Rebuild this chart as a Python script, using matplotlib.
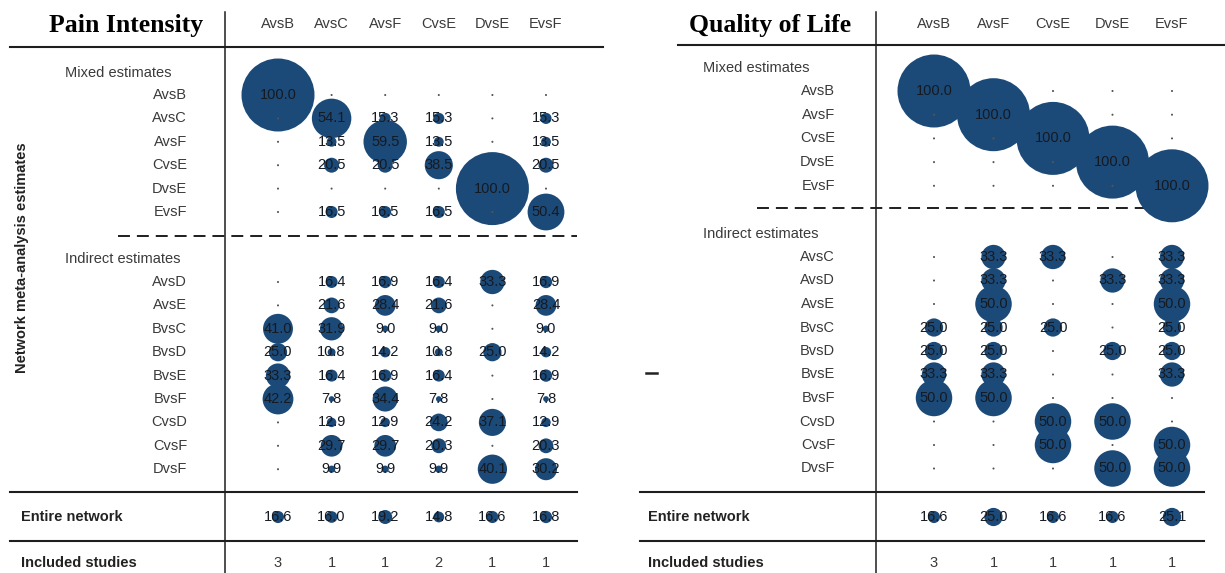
import matplotlib
matplotlib.use('Agg')
import matplotlib.pyplot as plt

plt.rcParams['font.family'] = ['Liberation Sans', 'DejaVu Sans']
plt.rcParams['lines.scale_dashes'] = False

# ---------------- data: Pain Intensity ----------------
pain_cols = ['AvsB', 'AvsC', 'AvsF', 'CvsE', 'DvsE', 'EvsF']
pain_mixed_rows = ['AvsB', 'AvsC', 'AvsF', 'CvsE', 'DvsE', 'EvsF']
pain_mixed = [
    [100.0, 0, 0, 0, 0, 0],
    [0, 54.1, 15.3, 15.3, 0, 15.3],
    [0, 13.5, 59.5, 13.5, 0, 13.5],
    [0, 20.5, 20.5, 38.5, 0, 20.5],
    [0, 0, 0, 0, 100.0, 0],
    [0, 16.5, 16.5, 16.5, 0, 50.4],
]
pain_indirect_rows = ['AvsD', 'AvsE', 'BvsC', 'BvsD', 'BvsE', 'BvsF', 'CvsD', 'CvsF', 'DvsF']
pain_indirect = [
    [0, 16.4, 16.9, 16.4, 33.3, 16.9],
    [0, 21.6, 28.4, 21.6, 0, 28.4],
    [41.0, 31.9, 9.0, 9.0, 0, 9.0],
    [25.0, 10.8, 14.2, 10.8, 25.0, 14.2],
    [33.3, 16.4, 16.9, 16.4, 0, 16.9],
    [42.2, 7.8, 34.4, 7.8, 0, 7.8],
    [0, 12.9, 12.9, 24.2, 37.1, 12.9],
    [0, 29.7, 29.7, 20.3, 0, 20.3],
    [0, 9.9, 9.9, 9.9, 40.1, 30.2],
]
pain_entire = [16.6, 16.0, 19.2, 14.8, 16.6, 16.8]
pain_studies = [3, 1, 1, 2, 1, 1]

# ---------------- data: Quality of Life ----------------
qol_cols = ['AvsB', 'AvsF', 'CvsE', 'DvsE', 'EvsF']
qol_mixed_rows = ['AvsB', 'AvsF', 'CvsE', 'DvsE', 'EvsF']
qol_mixed = [
    [100.0, 0, 0, 0, 0],
    [0, 100.0, 0, 0, 0],
    [0, 0, 100.0, 0, 0],
    [0, 0, 0, 100.0, 0],
    [0, 0, 0, 0, 100.0],
]
qol_indirect_rows = ['AvsC', 'AvsD', 'AvsE', 'BvsC', 'BvsD', 'BvsE', 'BvsF', 'CvsD', 'CvsF', 'DvsF']
qol_indirect = [
    [0, 33.3, 33.3, 0, 33.3],
    [0, 33.3, 0, 33.3, 33.3],
    [0, 50.0, 0, 0, 50.0],
    [25.0, 25.0, 25.0, 0, 25.0],
    [25.0, 25.0, 0, 25.0, 25.0],
    [33.3, 33.3, 0, 0, 33.3],
    [50.0, 50.0, 0, 0, 0],
    [0, 0, 50.0, 50.0, 0],
    [0, 0, 50.0, 0, 50.0],
    [0, 0, 0, 50.0, 50.0],
]
qol_entire = [16.6, 25.0, 16.6, 16.6, 25.1]
qol_studies = [3, 1, 1, 1, 1]

# ---------------- style ----------------
W, H = 1225, 573
BUBBLE = '#1c4a78'
NUMCOL = '#151a22'
LABCOL = '#3a3a3a'
LINECOL = '#1e1e1e'
FS = 10.5
PX2PT = 0.72
DIAM_PER_UNIT = 0.73  # pixels of diameter per percentage point

fig = plt.figure(figsize=(W / 100, H / 100), dpi=100)
ax = fig.add_axes([0, 0, 1, 1])
ax.set_xlim(0, W)
ax.set_ylim(H, 0)
ax.axis('off')


def bubbles(xs, y, vals):
    for x, v in zip(xs, vals):
        if v > 0:
            d = DIAM_PER_UNIT * v * PX2PT
            ax.scatter([x], [y], s=d ** 2, color=BUBBLE, edgecolors='none', zorder=3)
            ax.text(x, y, f'{v:.1f}', ha='center', va='center', fontsize=FS,
                    color=NUMCOL, zorder=4)
        else:
            ax.scatter([x], [y], s=2.2, color='#555555', edgecolors='none', zorder=3)


def panel(cfg):
    cols = cfg['cols']
    xs = [cfg['x0'] + j * cfg['dx'] for j in range(len(cols))]
    # title and header
    ax.text(cfg['title_x'], 32, cfg['title'], ha='left', va='baseline',
            fontsize=18.5, fontweight='bold', family='Liberation Serif', color='black')
    for x, c in zip(xs, cols):
        ax.text(x, 24, c, ha='center', va='center', fontsize=FS, color=LABCOL)
    # structure lines
    ax.plot([cfg['vline_x']] * 2, [12, H], color=LINECOL, lw=1.1)
    ax.plot(cfg['hline_head'], [cfg['head_y']] * 2, color=LINECOL, lw=1.5)
    ax.plot(cfg['hline_low'], [492] * 2, color=LINECOL, lw=1.5)
    ax.plot(cfg['hline_low'], [541] * 2, color=LINECOL, lw=1.5)
    ax.plot(cfg['dash'], [cfg['dash_y']] * 2, color=LINECOL, lw=1.4,
            dashes=(8.6, 5.0), zorder=2)
    # section labels
    ax.text(cfg['sec_x'], cfg['mixed_lab_y'], 'Mixed estimates', ha='left', va='center',
            fontsize=FS, color=LABCOL)
    ax.text(cfg['sec_x'], cfg['ind_lab_y'], 'Indirect estimates', ha='left', va='center',
            fontsize=FS, color=LABCOL)
    # mixed rows
    for i, (r, vals) in enumerate(zip(cfg['mixed_rows'], cfg['mixed'])):
        y = cfg['m0'] + i * cfg['mdy']
        ax.text(cfg['row_x'], y, r, ha='right', va='center', fontsize=FS, color=LABCOL)
        bubbles(xs, y, vals)
    # indirect rows
    for i, (r, vals) in enumerate(zip(cfg['ind_rows'], cfg['ind'])):
        y = cfg['i0'] + i * cfg['idy']
        ax.text(cfg['row_x'], y, r, ha='right', va='center', fontsize=FS, color=LABCOL)
        bubbles(xs, y, vals)
    # entire network
    ax.text(cfg['bottom_x'], 517, 'Entire network', ha='left', va='center',
            fontsize=FS, fontweight='bold', color='#222222')
    bubbles(xs, 517, cfg['entire'])
    ax.text(cfg['bottom_x'], 563, 'Included studies', ha='left', va='center',
            fontsize=FS, fontweight='bold', color='#222222')
    for x, n in zip(xs, cfg['studies']):
        ax.text(x, 563, str(n), ha='center', va='center', fontsize=FS, color=LABCOL)


panel(dict(title='Pain Intensity', title_x=49, cols=pain_cols, x0=278, dx=53.6,
           vline_x=225, head_y=47, hline_head=[10, 603], hline_low=[10, 577],
           dash=[118, 577], dash_y=236, sec_x=65, mixed_lab_y=73, ind_lab_y=259,
           row_x=187, mixed_rows=pain_mixed_rows, mixed=pain_mixed, m0=95, mdy=23.4,
           ind_rows=pain_indirect_rows, ind=pain_indirect, i0=282, idy=23.4,
           bottom_x=21, entire=pain_entire, studies=pain_studies))

panel(dict(title='Quality of Life', title_x=689, cols=qol_cols, x0=934, dx=59.5,
           vline_x=876, head_y=45, hline_head=[678, 1225], hline_low=[640, 1204],
           dash=[757, 1200], dash_y=208, sec_x=703, mixed_lab_y=68, ind_lab_y=234,
           row_x=835, mixed_rows=qol_mixed_rows, mixed=qol_mixed, m0=91, mdy=23.7,
           ind_rows=qol_indirect_rows, ind=qol_indirect, i0=257, idy=23.5,
           bottom_x=648, entire=qol_entire, studies=qol_studies))

# rotated axis title of the left panel
ax.text(22, 258, 'Network meta-analysis estimates', rotation=90, ha='center', va='center',
        fontsize=FS, fontweight='bold', color='#222222')
# small stray mark on the right panel
ax.plot([646, 657], [373, 373], color='#222222', lw=1.8)

fig.savefig('out.png', dpi=100)
